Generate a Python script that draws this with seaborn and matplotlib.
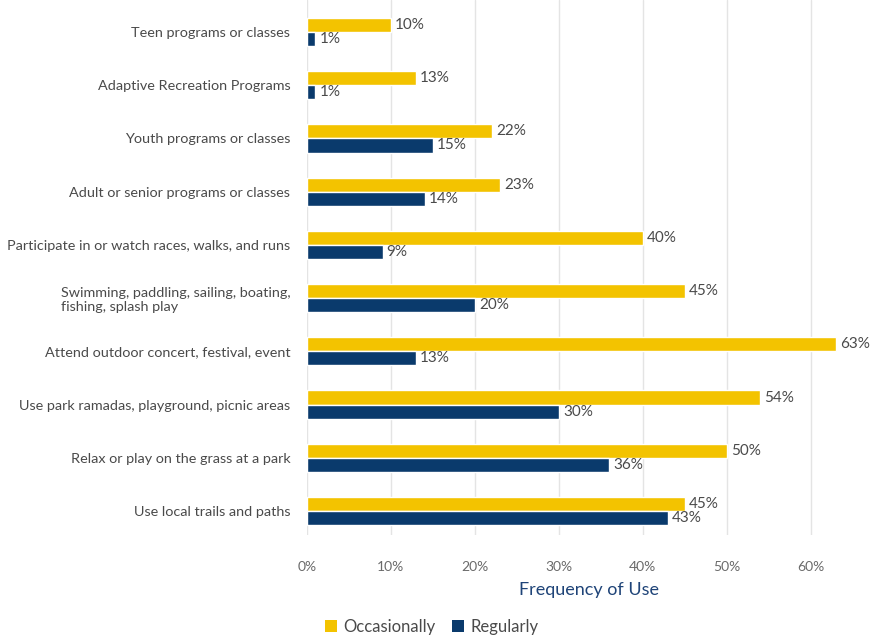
import matplotlib
matplotlib.use("Agg")
import matplotlib.pyplot as plt
import seaborn as sns
import pandas as pd
from matplotlib.patches import Patch

activities = [
    "Teen programs or classes",
    "Adaptive Recreation Programs",
    "Youth programs or classes",
    "Adult or senior programs or classes",
    "Participate in or watch races, walks, and runs",
    "Swimming, paddling, sailing, boating,\nfishing, splash play",
    "Attend outdoor concert, festival, event",
    "Use park ramadas, playground, picnic areas",
    "Relax or play on the grass at a park",
    "Use local trails and paths",
]
occasionally = [10, 13, 22, 23, 40, 45, 63, 54, 50, 45]
regularly = [1, 1, 15, 14, 9, 20, 13, 30, 36, 43]
series_names = ["Occasionally", "Regularly"]
xtick_values = [0, 10, 20, 30, 40, 50, 60]
xtick_labels = ["0%", "10%", "20%", "30%", "40%", "50%", "60%"]

YELLOW = "#F3C300"
NAVY = "#0A3A6C"
TEXT = "#4a4a4a"

df = pd.DataFrame({
    "Activity": activities * 2,
    "Frequency": [series_names[0]] * len(activities) + [series_names[1]] * len(activities),
    "Percent": occasionally + regularly,
})

sns.set_theme(style="white")
plt.rcParams["font.family"] = ["Lato", "DejaVu Sans"]

fig = plt.figure(figsize=(8.71, 6.4), dpi=100)
ax = fig.add_axes([307 / 871, 105 / 640, 564 / 871, 535 / 640])

sns.barplot(
    data=df, y="Activity", x="Percent", hue="Frequency",
    order=activities, hue_order=series_names,
    palette=[YELLOW, NAVY], orient="h", width=0.53,
    saturation=1, errorbar=None, ax=ax, legend=False,
)

for container in ax.containers:
    ax.bar_label(container, labels=[f"{v:g}%" for v in container.datavalues],
                 padding=3, fontsize=11, color=TEXT)

ax.set_xlim(0, 67.2)
ax.set_ylim(9.45, -0.6)
ax.set_xticks(xtick_values)
ax.set_xticklabels(xtick_labels, fontsize=10, color="#6a6a6a")
ax.tick_params(axis="x", length=0, pad=19)
ax.tick_params(axis="y", length=0, pad=12, labelsize=10.4, labelcolor=TEXT)
for lbl in ax.get_yticklabels():
    if "\n" in lbl.get_text():
        lbl.set_multialignment("left")

ax.xaxis.grid(True, color="#e4e4e4", linewidth=1)
ax.yaxis.grid(False)
ax.set_axisbelow(True)
for s in ax.spines.values():
    s.set_visible(False)

ax.set_ylabel("")
ax.set_xlabel("Frequency of Use", fontsize=13, color="#1F4478", labelpad=6)

handles = [Patch(facecolor=YELLOW, edgecolor="none"), Patch(facecolor=NAVY, edgecolor="none")]
fig.legend(handles, series_names, loc="center", bbox_to_anchor=(432 / 871, 13 / 640),
           ncol=2, frameon=False, fontsize=12, handlelength=0.7, handleheight=0.7,
           handletextpad=0.4, columnspacing=1.0, labelcolor=TEXT)

fig.savefig("out.png", dpi=100)
